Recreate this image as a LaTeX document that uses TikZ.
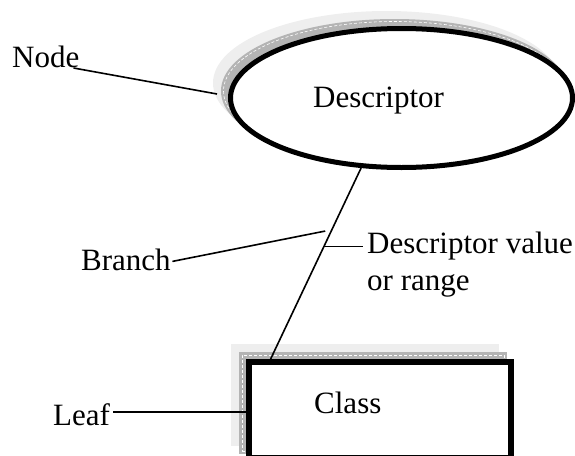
\documentclass[tikz,border=0pt]{standalone}
\usepackage{fontspec}
\setmainfont{Liberation Serif}
\usetikzlibrary{shapes.geometric, shadows, calc, positioning}
\definecolor{shadegray} {RGB}{180,180,180}
\definecolor{shadelight}{RGB}{238,238,238}

\begin{document}
\begin{tikzpicture}[x=1pt, y=-1pt,
  lbl/.style={inner sep=0pt, font=\fontsize{31}{37}\selectfont},
  wordshadow/.style={
    general shadow={fill=shadelight, draw=shadelight, shadow xshift=-15pt, shadow yshift=15pt},
    general shadow={fill=shadegray, draw=shadegray, shadow xshift=-7pt, shadow yshift=7pt},
    general shadow={draw=white, line width=0.6pt, dash pattern=on 3pt off 2pt,
      shadow xshift=-7pt, shadow yshift=7pt}},
  descnode/.style={ellipse, draw, line width=5pt, fill=white,
    minimum width=342pt, minimum height=139pt, inner sep=0pt, wordshadow},
  leafnode/.style={rectangle, draw, line width=6pt, fill=white,
    minimum width=262pt, minimum height=96pt, inner sep=0pt, wordshadow},
  wire/.style={line width=1.6pt},
]
%% canvas: 575 x 455, y runs downwards
\useasboundingbox (0,0) rectangle (575,455);

%% ── Tree parts ──────────────────────────────────────────────────────────────
\node[descnode] (desc) at (401.5,98) {};
\node[lbl, anchor=base west] (desctxt) at (313,107) {Descriptor};

\node[leafnode] (box) at (380,410) {};
\node[lbl, anchor=base west] (classtxt) at (314,413) {Class};

%% ── Labels ──────────────────────────────────────────────────────────────────
\node[lbl, anchor=base west] (nodetxt)   at (12,67)   {Node};
\node[lbl, anchor=base west] (branchtxt) at (81,270)  {Branch};
\node[lbl, anchor=north west, align=left, inner xsep=4pt] (valtxt) at (363,232)
  {Descriptor value\\or range};
\node[lbl, anchor=base west] (leaftxt)   at (53,425)  {Leaf};

%% ── Connectors ──────────────────────────────────────────────────────────────
\coordinate (nodetip) at (217,94);
\coordinate (valpt) at ($(desc.240)!0.41!(box.155)$);
\coordinate (branchtip) at ($(desc.240)!0.33!(box.155) + (-6,0)$);

\draw[wire] (desc.240) -- (box.155);
\draw[wire] ([xshift=-6pt, yshift=-1pt]nodetxt.base east) -- (nodetip);
\draw[wire] ([xshift=1.5pt, yshift=-2pt]branchtxt.east) -- (branchtip);
\draw[wire] (valpt) -- (valpt -| valtxt.west);
\draw[wire] ([xshift=3pt, yshift=2pt]leaftxt.east) coordinate (leafpt) -- (leafpt -| box.west);

\end{tikzpicture}
\end{document}
